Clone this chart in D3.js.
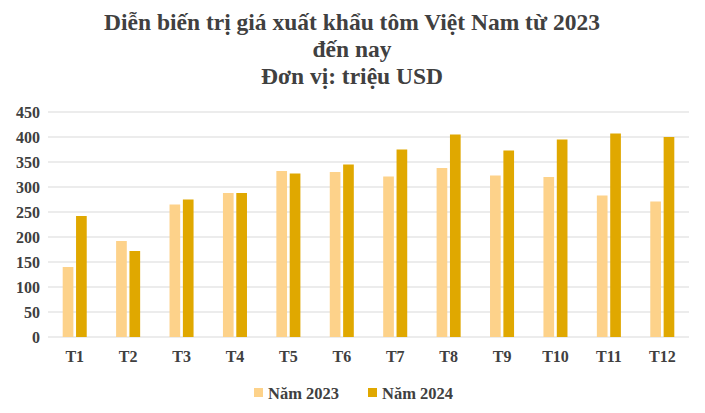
<!DOCTYPE html>
<html>
<head>
<meta charset="utf-8">
<script src="https://d3js.org/d3.v7.min.js"></script>
<style>
  body { margin: 0; background: #fff; }
  text { font-family: "Liberation Serif", "Times New Roman", serif; }
</style>
</head>
<body>
<div id="chart"></div>
<script>
const months = ['T1','T2','T3','T4','T5','T6','T7','T8','T9','T10','T11','T12'];
const v2023 = [140, 192, 265, 288, 332, 330, 321, 338, 323, 320, 283, 271];
const v2024 = [242, 172, 275, 288, 327, 345, 375, 405, 373, 395, 407, 400];
const yTicks = [0, 50, 100, 150, 200, 250, 300, 350, 400, 450];
const seriesNames = ['Năm 2023', 'Năm 2024'];
const colors = ['#FDD28A', '#E0A800'];

const width = 705, height = 413;
const svg = d3.select('#chart').append('svg')
  .attr('width', width).attr('height', height);

// title
const title = ['Diễn biến trị giá xuất khẩu tôm Việt Nam từ 2023', 'đến nay', 'Đơn vị: triệu USD'];
svg.append('g').selectAll('text').data(title).enter().append('text')
  .attr('x', 352).attr('y', (d, i) => 30 + i * 27)
  .attr('text-anchor', 'middle')
  .style('font-size', '23.5px').style('font-weight', 'bold').style('fill', '#404040')
  .text(d => d);

const x = d3.scaleBand().domain(months).range([48, 689]);
const y = d3.scaleLinear().domain([0, 450]).range([337, 112]);

// gridlines
svg.append('g').selectAll('line').data(yTicks).enter().append('line')
  .attr('x1', 48).attr('x2', 689)
  .attr('y1', d => y(d)).attr('y2', d => y(d))
  .attr('stroke', '#d9d9d9').attr('stroke-width', 1);

const yAxis = svg.append('g').attr('transform', 'translate(40,0)')
  .call(d3.axisLeft(y).tickValues(yTicks).tickSize(0).tickPadding(0));
yAxis.select('.domain').remove();
yAxis.selectAll('text').style('font-size', '16px').style('font-weight', 'bold')
  .style('fill', '#404040').style('font-family', '"Liberation Serif", serif');

const xAxis = svg.append('g').attr('transform', 'translate(0,337)')
  .call(d3.axisBottom(x).tickSize(0).tickPadding(14));
xAxis.select('.domain').remove();
xAxis.selectAll('text').style('font-size', '16px').style('font-weight', 'bold')
  .style('fill', '#404040').style('font-family', '"Liberation Serif", serif');

const inner = d3.scaleBand().domain([0, 1]).range([0, x.bandwidth()]).paddingInner(0.2).paddingOuter(1.1);
[v2023, v2024].forEach((vals, s) => {
  svg.append('g').selectAll('rect').data(vals).enter().append('rect')
    .attr('x', (d, i) => x(months[i]) + inner(s))
    .attr('width', inner.bandwidth())
    .attr('y', d => y(d))
    .attr('height', d => y(0) - y(d))
    .attr('fill', colors[s]);
});

// legend
const leg = svg.append('g').attr('transform', 'translate(254,393)');
seriesNames.forEach((n, i) => {
  const g = leg.append('g').attr('transform', `translate(${i * 114},0)`);
  g.append('rect').attr('x', 0).attr('y', -5).attr('width', 9).attr('height', 9).attr('fill', colors[i]);
  g.append('text').attr('x', 14).attr('y', 6).style('font-size', '16.5px').style('font-weight', 'bold')
    .style('fill', '#404040').text(n);
});
</script>
</body>
</html>
